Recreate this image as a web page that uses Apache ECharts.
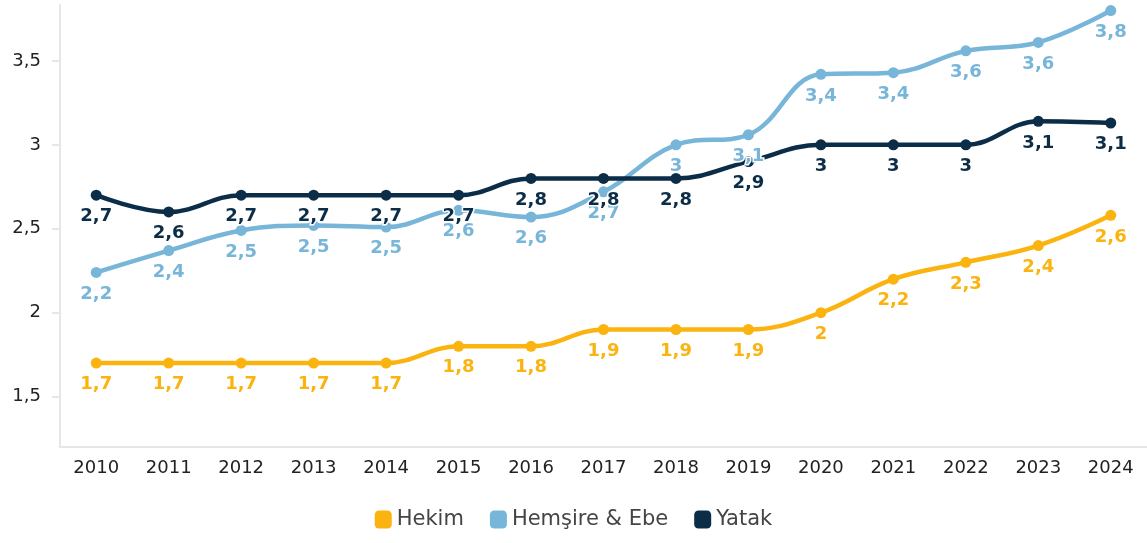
<!DOCTYPE html>
<html>
<head>
<meta charset="utf-8">
<script src="https://cdn.jsdelivr.net/npm/echarts@6/dist/echarts.min.js"></script>
<style>
  html, body { margin: 0; padding: 0; background: #fff; }
  #chart { width: 1147px; height: 543px; }
</style>
</head>
<body>
<div id="chart"></div>
<script>
// veriler
var years = ['2010','2011','2012','2013','2014','2015','2016','2017','2018','2019','2020','2021','2022','2023','2024'];
var hekim = [1.70, 1.70, 1.70, 1.70, 1.70, 1.80, 1.80, 1.90, 1.90, 1.90, 2.00, 2.20, 2.30, 2.40, 2.58];
var hemsire = [2.24, 2.37, 2.49, 2.52, 2.51, 2.61, 2.57, 2.72, 3.00, 3.06, 3.42, 3.43, 3.56, 3.61, 3.80];
var yatak = [2.70, 2.60, 2.70, 2.70, 2.70, 2.70, 2.80, 2.80, 2.80, 2.90, 3.00, 3.00, 3.00, 3.14, 3.13];
var yTicks = [1.5, 2, 2.5, 3, 3.5];

var colors = ['#FBB40F', '#77B5D9', '#0C2D48'];

function comma(v) {
  return String(v).replace('.', ',');
}

function makeSeries(name, data, color) {
  return {
    name: name,
    type: 'line',
    data: data,
    smooth: 0.4,
    symbol: 'circle',
    symbolSize: 11,
    lineStyle: { color: color, width: 4.5 },
    itemStyle: { color: color },
    label: {
      show: true,
      position: 'bottom',
      distance: 7,
      color: color,
      fontFamily: 'DejaVu Sans',
      fontWeight: 'bold',
      fontSize: 18,
      textBorderColor: '#fff',
      textBorderWidth: 3,
      formatter: function (p) {
        var v = Math.round(p.value * 10) / 10;
        return comma(v);
      }
    }
  };
}

var chart = echarts.init(document.getElementById('chart'));
chart.setOption({
  animation: false,
  color: colors,
  grid: { left: 60, width: 1089, top: 5, bottom: 96 },
  legend: {
    bottom: 8,
    left: 'center',
    icon: 'roundRect',
    itemWidth: 17,
    itemHeight: 18,
    itemGap: 26,
    textStyle: { fontFamily: 'DejaVu Sans', fontSize: 21, color: '#444' },
    data: ['Hekim', 'Hemşire & Ebe', 'Yatak']
  },
  xAxis: {
    type: 'category',
    data: years,
    boundaryGap: true,
    axisLine: { lineStyle: { color: '#e6e6e6', width: 2 } },
    axisTick: { alignWithLabel: true, length: 7, lineStyle: { color: '#e6e6e6', width: 2 } },
    axisLabel: { fontFamily: 'DejaVu Sans', fontSize: 18, color: '#222', margin: 12 }
  },
  yAxis: {
    type: 'value',
    min: 1.2,
    max: 3.833,
    splitLine: { show: false },
    axisLine: { show: true, lineStyle: { color: '#e6e6e6', width: 2 } },
    axisTick: { show: true, length: 8, customValues: yTicks, lineStyle: { color: '#e6e6e6', width: 2 } },
    axisLabel: {
      customValues: yTicks,
      fontFamily: 'DejaVu Sans',
      fontSize: 18,
      color: '#222',
      margin: 19,
      formatter: function (v) { return comma(v); }
    }
  },
  series: [
    makeSeries('Hekim', hekim, colors[0]),
    makeSeries('Hemşire & Ebe', hemsire, colors[1]),
    makeSeries('Yatak', yatak, colors[2])
  ]
});
</script>
</body>
</html>
